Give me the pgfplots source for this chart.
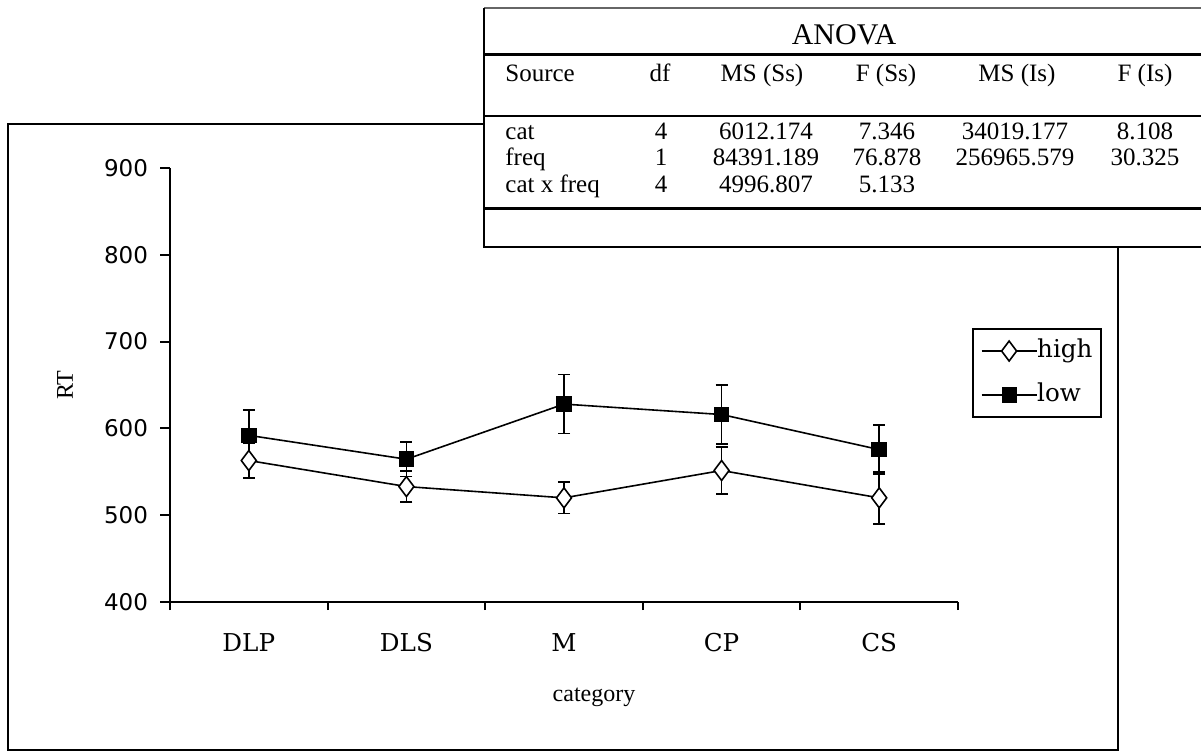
\documentclass[border=0pt]{standalone}
\usepackage{fontspec}
\setmainfont{Liberation Serif}
\newfontfamily\djs{DejaVu Serif}
\newfontfamily\djsans{DejaVu Sans}
\usepackage{pgfplots}
\pgfplotsset{compat=1.18}
\usepackage{pgfplotstable}

\pgfplotstableread{
x y e
1 563 20
2 533 18
3 520 18
4 551.5 27
5 520 30
}\highdata
\pgfplotstableread{
x y e
1 592 29
2 564.5 20
3 628 34
4 616 34
5 575.6 28
}\lowdata

\newcommand\tbl{\fontsize{12.5}{14}\selectfont}

\begin{document}
\begin{tikzpicture}
\useasboundingbox (0,0) rectangle (600.5pt,-377.5pt);
\begin{scope}[x=0.5pt,y=-0.5pt]
\draw[line width=1pt] (8,124) rectangle (1118,750);
\end{scope}
\begin{axis}[
  at={(85pt,-301pt)}, anchor=south west,
  scale only axis, width=394pt, height=217pt,
  xmin=0.5, xmax=5.5, ymin=400, ymax=900,
  axis lines*=left,
  axis line style={line width=1pt, black},
  xtick={1,2,3,4,5}, xticklabels={DLP,DLS,M,CP,CS},
  minor xtick={0.5,1.5,2.5,3.5,4.5,5.5},
  major x tick style={draw=none},
  minor x tick style={line width=1pt, black},
  ytick={400,500,600,700,800,900},
  y tick style={line width=1pt, black},
  tick align=outside,
  major tick length=5pt, minor tick length=4pt,
  /pgf/number format/assume math mode=true,
  xticklabel style={font=\djs\fontsize{12.3}{14}\selectfont, yshift=-7pt},
  yticklabel style={font=\djsans\fontsize{11.5}{13}\selectfont, xshift=-2.5pt},
  legend style={at={(1.0178,0.6313)}, anchor=north west, draw=black, line width=1pt,
    font=\djs\fontsize{12.3}{14}\selectfont, legend cell align=left,
    inner xsep=4pt, inner ysep=5pt, row sep=10pt,
    nodes={inner sep=0pt, text height=9pt, text depth=3pt},
    /tikz/every even column/.append style={column sep=3.5pt}},
  legend image code/.code={\draw[mark repeat=2,mark phase=2, line width=0.6pt] plot coordinates {(0pt,0pt)(13.75pt,0pt)(27.5pt,0pt)};},
]
\addplot[line width=0.8pt, black, mark=diamond*, mark size=5pt,
  mark options={fill=white, solid, line width=0.8pt},
  error bars/.cd, y dir=both, y explicit,
  error bar style={line width=0.8pt, black},
  error mark options={mark size=3pt, line width=0.8pt, black, rotate=90}]
  table[x=x, y=y, y error=e] {\highdata};
\addlegendentry{high\hspace{2.5pt}}
\addplot[line width=0.8pt, black, mark=square*, mark size=3.5pt,
  mark options={fill=black, solid},
  error bars/.cd, y dir=both, y explicit,
  error bar style={line width=0.8pt, black},
  error mark options={mark size=3pt, line width=0.8pt, black, rotate=90}]
  table[x=x, y=y, y error=e] {\lowdata};
\addlegendentry{low}
\end{axis}
\begin{scope}[x=0.5pt,y=-0.5pt]
% ANOVA table box
\fill[white] (484,8) rectangle (1201,247);
\draw[line width=0.6pt, black!60] (484,8) -- (1201,8);
\draw[line width=1pt] (484,8) -- (484,247) -- (1201,247);
\draw[line width=1.5pt] (484,54) -- (1201,54);
\draw[line width=1pt] (484,116) -- (1201,116);
\draw[line width=1.5pt] (484,208) -- (1201,208);
\node[anchor=base, inner sep=0pt, font=\fontsize{15}{17}\selectfont] at (844,45) {ANOVA};
\begin{scope}[every node/.style={inner sep=0pt, font=\tbl}]
\node[anchor=base west] at (505,82) {Source};
\node[anchor=base] at (660,82) {df};
\node[anchor=base] at (762,82) {MS (Ss)};
\node[anchor=base] at (886,82) {F (Ss)};
\node[anchor=base] at (1017,82) {MS (Is)};
\node[anchor=base] at (1145,82) {F (Is)};
\node[anchor=base west] at (505,139) {cat};
\node[anchor=base west] at (505,165) {freq};
\node[anchor=base west] at (505,192) {cat x freq};
\node[anchor=base] at (661,139) {4};
\node[anchor=base] at (661,165) {1};
\node[anchor=base] at (661,192) {4};
\node[anchor=base] at (766,139) {6012.174};
\node[anchor=base] at (766,165) {84391.189};
\node[anchor=base] at (766,192) {4996.807};
\node[anchor=base] at (887,139) {7.346};
\node[anchor=base] at (887,165) {76.878};
\node[anchor=base] at (887,192) {5.133};
\node[anchor=base] at (1015,139) {34019.177};
\node[anchor=base] at (1015,165) {256965.579};
\node[anchor=base] at (1145,139) {8.108};
\node[anchor=base] at (1145,165) {30.325};
\end{scope}
\node[rotate=90, inner sep=0pt, font=\fontsize{12}{13}\selectfont] at (65,385) {RT};
\node[inner sep=0pt, font=\fontsize{12}{13}\selectfont] at (594,697) {category};
\end{scope}
\end{tikzpicture}
\end{document}
